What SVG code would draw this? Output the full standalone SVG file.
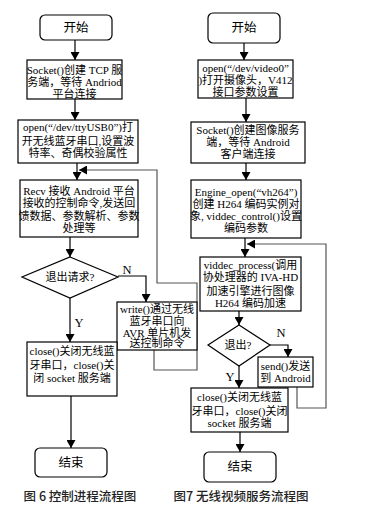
<svg xmlns="http://www.w3.org/2000/svg" width="366" height="514" viewBox="0 0 366 514">
<defs>
<marker id="ah" markerUnits="userSpaceOnUse" markerWidth="9" markerHeight="9" refX="8" refY="4.5" orient="auto">
<path d="M0,0 L8,4.5 L0,9 Z" fill="#000"/>
</marker>
<style>
.box{fill:#fff;stroke:#000;stroke-width:1.2}
.t{font-family:"Liberation Serif","Noto Sans CJK SC",serif;font-size:11px;fill:#000;text-anchor:middle}
.big{font-size:12.5px}
.c{font-family:"Noto Sans CJK SC",sans-serif;font-size:12.5px;font-weight:500;fill:#222;text-anchor:middle}
.ln{fill:none;stroke:#000;stroke-width:1.2}
.lp{fill:none;stroke:#555;stroke-width:1.2}
.a{marker-end:url(#ah)}
</style>
</defs>
<rect width="366" height="514" fill="#fff"/>
<g id="connectors">
<line class="ln a" x1="75" y1="40" x2="75" y2="60"/>
<line class="ln a" x1="75" y1="99" x2="75" y2="120"/>
<line class="ln a" x1="77" y1="163" x2="77" y2="180"/>
<line class="ln a" x1="70" y1="237" x2="70" y2="257"/>
<polyline class="ln a" points="118,276 146,276 146,302"/>
<line class="ln a" x1="70" y1="298" x2="70" y2="342"/>
<line class="ln a" x1="71" y1="396" x2="71" y2="448"/>
<polyline class="lp a" points="154,350 154,370 197,370 197,283 157,283 157,170 79,170"/>
<line class="ln a" x1="244" y1="43" x2="244" y2="60"/>
<line class="ln a" x1="246" y1="98" x2="246" y2="122"/>
<line class="ln a" x1="246" y1="163" x2="246" y2="180"/>
<line class="ln a" x1="245" y1="238" x2="245" y2="257"/>
<polyline class="lp a" points="297,387 297,408 326,408 326,244 247,244"/>
<line class="ln a" x1="239" y1="311" x2="239" y2="325"/>
<polyline class="ln a" points="270,345 288,345 288,357"/>
<line class="ln a" x1="239" y1="366" x2="239" y2="388"/>
<line class="ln a" x1="240" y1="432" x2="240" y2="452"/>
<text class="t big" x="127" y="274">N</text>
<text class="t big" x="79" y="327">Y</text>
<text class="t big" x="281" y="337">N</text>
<text class="t big" x="230" y="381">Y</text>
</g>
<g id="l-start"><rect class="box" x="40" y="15" width="72" height="25" rx="5"/><text class="t big" x="76" y="32">开始</text></g>
<g id="l-socket"><rect class="box" x="27" y="60" width="95" height="39"/>
<text class="t" x="74.5" y="74">Socket()创建 TCP 服</text><text class="t" x="74.5" y="86">务端，等待 Andriod</text><text class="t" x="74.5" y="97.5">平台连接</text></g>
<g id="l-open"><rect class="box" x="18" y="120" width="120" height="43"/>
<text class="t" x="78" y="131">open(“/dev/ttyUSB0”)打</text><text class="t" x="78" y="145">开无线蓝牙串口,设置波</text><text class="t" x="78" y="157">特率、奇偶校验属性</text></g>
<g id="l-recv"><rect class="box" x="20" y="180" width="118" height="57"/>
<text class="t" x="79" y="195">Recv 接收 Android 平台</text><text class="t" x="79" y="207">接收的控制命令,发送回</text><text class="t" x="79" y="220">馈数据、参数解析、参数</text><text class="t" x="79" y="232">处理等</text></g>
<g id="l-quit"><polygon class="box" points="70,257 118,277 70,298 22,277"/><text class="t" x="70" y="281">退出请求?</text></g>
<g id="l-write"><rect class="box" x="117" y="302" width="80" height="48"/>
<text class="t" x="157" y="313">write()通过无线</text><text class="t" x="157" y="325">蓝牙串口向</text><text class="t" x="157" y="336.5">AVR 单片机发</text><text class="t" x="157" y="347">送控制命令</text></g>
<g id="l-close"><rect class="box" x="27" y="342" width="90" height="54"/>
<text class="t" x="72" y="355">close()关闭无线蓝</text><text class="t" x="72" y="369">牙串口，close()关</text><text class="t" x="72" y="382">闭 socket 服务端</text></g>
<g id="l-end"><rect class="box" x="35" y="448" width="72" height="29" rx="5"/><text class="t big" x="71" y="467">结束</text></g>
<text class="c" x="80" y="501">图 6  控制进程流程图</text>
<g id="r-start"><rect class="box" x="208" y="13" width="72" height="30" rx="5"/><text class="t big" x="244" y="32">开始</text></g>
<g id="r-open"><rect class="box" x="198" y="60" width="95" height="38"/>
<text class="t" x="245.5" y="72">open(“/dev/video0”</text><text class="t" x="245.5" y="84">)打开摄像头，V412</text><text class="t" x="245.5" y="96">接口参数设置</text></g>
<g id="r-socket"><rect class="box" x="191" y="122" width="114" height="41"/>
<text class="t" x="248" y="134">Socket()创建图像服务</text><text class="t" x="248" y="146">端，等待 Android</text><text class="t" x="248" y="157.5">客户端连接</text></g>
<g id="r-engine"><rect class="box" x="191" y="180" width="110" height="58"/>
<text class="t" x="246" y="196">Engine_open(“vh264”)</text><text class="t" x="246" y="208">创建 H264 编码实例对</text><text class="t" x="246" y="220">象, viddec_control()设置</text><text class="t" x="246" y="232">编码参数</text></g>
<g id="r-viddec"><rect class="box" x="200" y="257" width="101" height="54"/>
<text class="t" x="250.5" y="269">viddec_process(调用</text><text class="t" x="250.5" y="281">协处理器的 IVA-HD</text><text class="t" x="250.5" y="295">加速引擎进行图像</text><text class="t" x="250.5" y="307">H264 编码加速</text></g>
<g id="r-quit"><polygon class="box" points="239,325 270,345 239,366 208,345"/><text class="t" x="238" y="349">退出?</text></g>
<g id="r-send"><rect class="box" x="258" y="357" width="55" height="30"/>
<text class="t" x="285.5" y="370">send()发送</text><text class="t" x="285.5" y="382">到 Android</text></g>
<g id="r-close"><rect class="box" x="191" y="388" width="97" height="44"/>
<text class="t" x="239.5" y="401">close()关闭无线蓝</text><text class="t" x="239.5" y="415">牙串口，close()关闭</text><text class="t" x="239.5" y="427">socket 服务端</text></g>
<g id="r-end"><rect class="box" x="204" y="452" width="72" height="30" rx="5"/><text class="t big" x="240" y="471">结束</text></g>
<text class="c" x="241" y="501">图7  无线视频服务流程图</text>
</svg>
